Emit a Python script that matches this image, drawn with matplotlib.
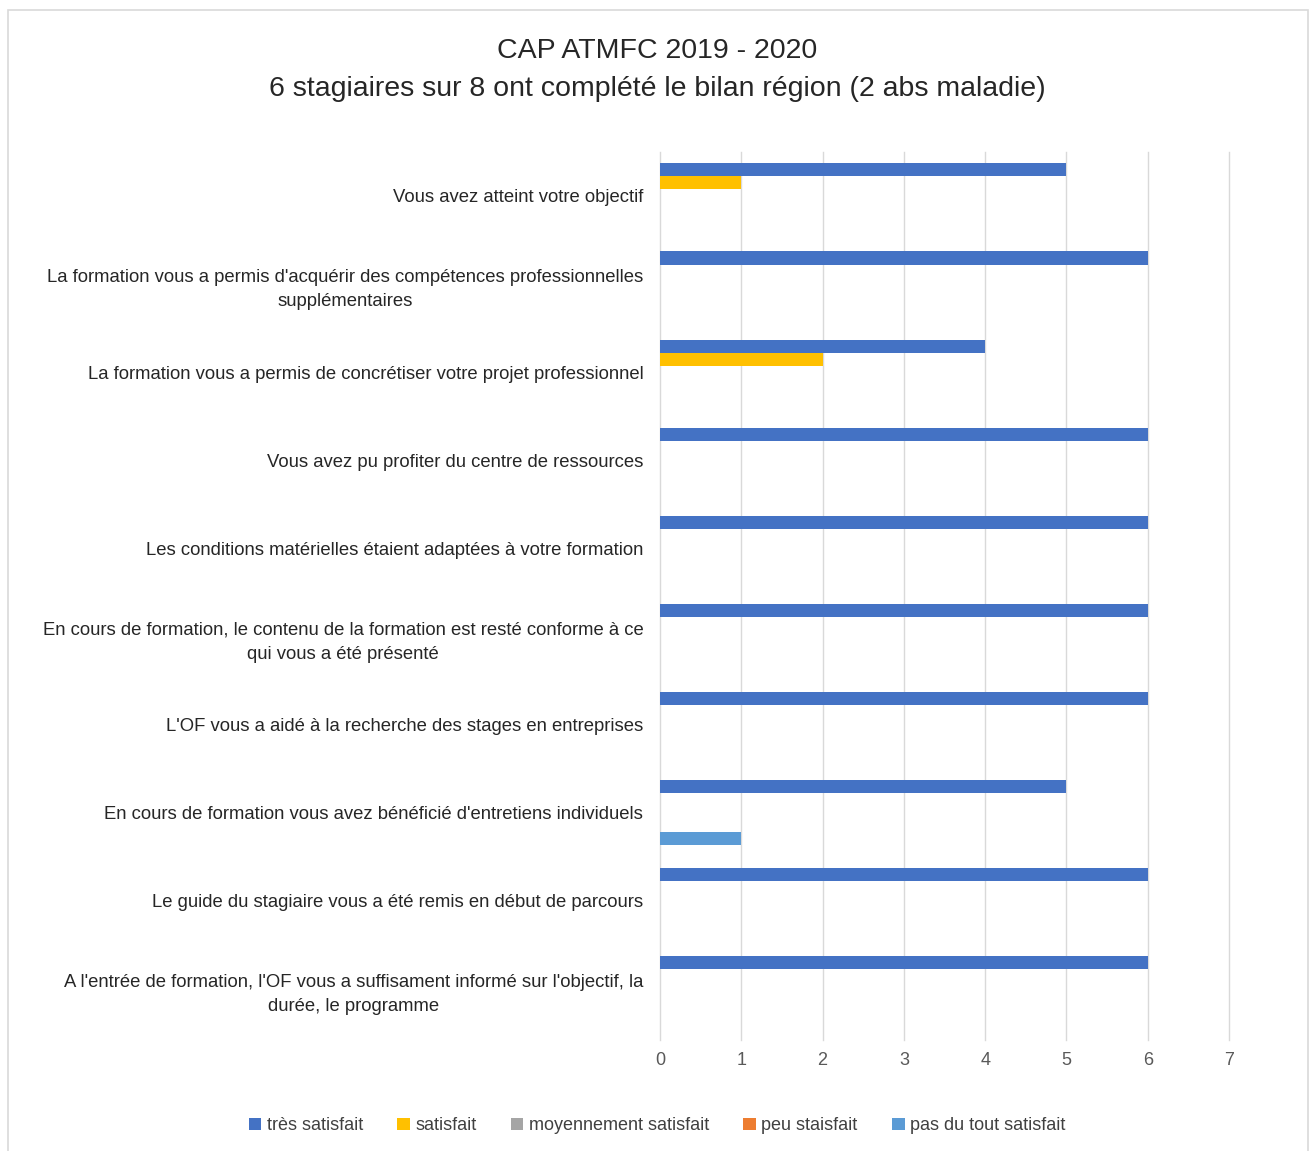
import numpy as np
import matplotlib.pyplot as plt
from matplotlib.patches import Rectangle

plt.rcParams['font.family'] = ['Liberation Sans', 'DejaVu Sans']

# categories, top to bottom as shown
questions = [
    "Vous avez atteint votre objectif",
    "La formation vous a permis d'acquérir des compétences professionnelles\nsupplémentaires",
    "La formation vous a permis de concrétiser votre projet professionnel",
    "Vous avez pu profiter du centre de ressources",
    "Les conditions matérielles étaient adaptées à votre formation",
    "En cours de formation, le contenu de la formation est resté conforme à ce\nqui vous a été présenté",
    "L'OF vous a aidé à la recherche des stages en entreprises",
    "En cours de formation vous avez bénéficié d'entretiens individuels",
    "Le guide du stagiaire vous a été remis en début de parcours",
    "A l'entrée de formation, l'OF vous a suffisament informé sur l'objectif, la\ndurée, le programme",
]

series = ["très satisfait", "satisfait", "moyennement satisfait", "peu staisfait", "pas du tout satisfait"]
tres_satisfait = [5, 6, 4, 6, 6, 6, 6, 5, 6, 6]
satisfait = [1, 0, 2, 0, 0, 0, 0, 0, 0, 0]
moyennement = [0, 0, 0, 0, 0, 0, 0, 0, 0, 0]
peu = [0, 0, 0, 0, 0, 0, 0, 0, 0, 0]
pas_du_tout = [0, 0, 0, 0, 0, 0, 0, 1, 0, 0]
values = [tres_satisfait, satisfait, moyennement, peu, pas_du_tout]
colors = ['#4472C4', '#FFC000', '#A5A5A5', '#ED7D31', '#5B9BD5']

fig = plt.figure(figsize=(13.14, 11.51), dpi=100)
ax = fig.add_axes([0.5023, 0.0965, 0.4330, 0.7715])

y = np.arange(len(questions))
h = 0.148
for j, (name, vals, c) in enumerate(zip(series, values, colors)):
    ax.barh(y + (j - 2) * h, vals, height=h, color=c, label=name)

ax.set_xlim(0, 7)
ax.set_ylim(len(questions) - 0.42, -0.5)
ax.set_xticks(range(8))
ax.set_yticks(y)
ax.set_yticklabels(questions, linespacing=1.55)
for lab in ax.get_yticklabels():
    lab.set_multialignment('center')
ax.tick_params(axis='y', length=0, pad=12, labelsize=13.3, labelcolor='#262626')
ax.tick_params(axis='x', length=0, pad=9, labelsize=13, labelcolor='#595959')
ax.grid(axis='x', color='#D9D9D9', linewidth=1)
for gl in ax.get_xgridlines():
    gl.set_clip_on(False)
ax.set_axisbelow(True)
for s in ax.spines.values():
    s.set_visible(False)

fig.text(0.5, 0.956, "CAP ATMFC 2019 - 2020", ha='center', va='center', fontsize=20.5, color='#262626')
fig.text(0.5, 0.923, "6 stagiaires sur 8 ont complété le bilan région (2 abs maladie)",
         ha='center', va='center', fontsize=20.5, color='#262626')

fig.legend(loc='center', bbox_to_anchor=(0.5, 0.022), ncol=5, frameon=False,
           fontsize=13, handlelength=0.7, handleheight=0.7, handletextpad=0.3,
           columnspacing=1.9, labelcolor='#404040')

fig.patches.append(Rectangle((8 / 1314, -0.01), 1300 / 1314, 1 - 10 / 1151 + 0.01,
                             transform=fig.transFigure, fill=False,
                             edgecolor='#D9D9D9', linewidth=1.2))

fig.savefig('out.png', dpi=100, facecolor='white')
